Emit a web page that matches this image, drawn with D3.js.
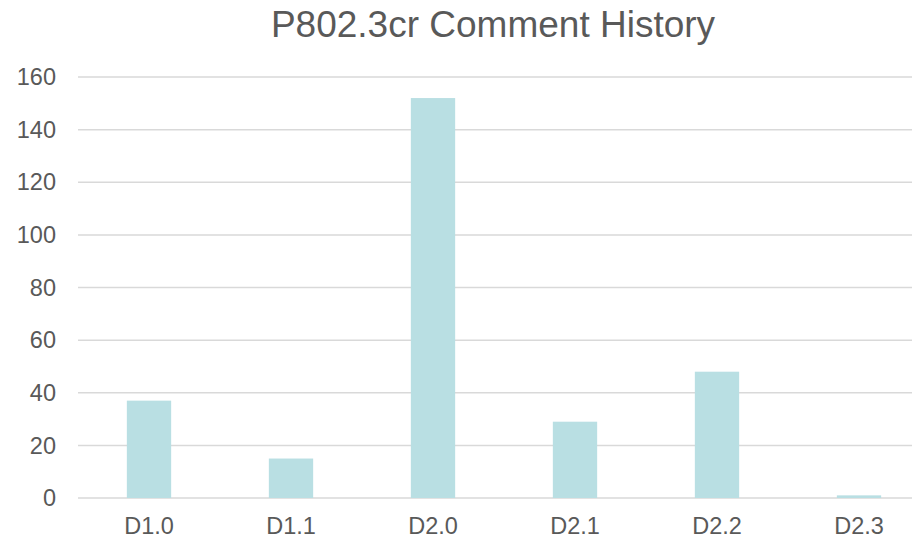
<!DOCTYPE html>
<html lang="en">
<head>
  <meta charset="UTF-8" />
  <title>P802.3cr Comment History</title>
  <script src="https://d3js.org/d3.v7.min.js"></script>
  <style>
    body { margin: 0; background: #fff; overflow: hidden; }
    svg { display: block; font-family: Arial, "Liberation Sans", Helvetica, sans-serif; }
    .grid line { stroke: #d9d9d9; stroke-width: 1.5px; }
    .label { fill: #595959; font-size: 23.5px; }
  </style>
</head>
<body>
  <svg width="912" height="539"></svg>
  <script>
    const drafts = ["D1.0", "D1.1", "D2.0", "D2.1", "D2.2", "D2.3"];
    const comments = [37, 15, 152, 29, 48, 1];
    const yTicks = [0, 20, 40, 60, 80, 100, 120, 140, 160];

    const svg = d3.select("svg");
    const plot = { left: 78, right: 930, top: 77, bottom: 498 };

    const x = d3.scaleBand().domain(drafts).range([plot.left, plot.right]).paddingInner(0.688).paddingOuter(0.344);
    const y = d3.scaleLinear().domain([0, 160]).range([plot.bottom, plot.top]);

    // title
    svg.append("text")
      .attr("x", 493).attr("y", 37)
      .attr("text-anchor", "middle")
      .style("font-size", "37px").style("fill", "#595959")
      .text("P802.3cr Comment History");

    // gridlines
    svg.append("g").attr("class", "grid")
      .selectAll("line").data(yTicks).join("line")
      .attr("x1", plot.left).attr("x2", plot.right)
      .attr("y1", d => y(d)).attr("y2", d => y(d));

    // y labels
    svg.append("g").selectAll("text").data(yTicks).join("text")
      .attr("class", "label")
      .attr("x", 56).attr("y", d => y(d))
      .attr("dy", "0.35em")
      .attr("text-anchor", "end")
      .text(d => d);

    // bars
    svg.append("g").selectAll("rect").data(drafts).join("rect")
      .attr("x", d => x(d))
      .attr("width", x.bandwidth())
      .attr("y", (d, i) => y(comments[i]))
      .attr("height", (d, i) => y(0) - y(comments[i]))
      .attr("fill", "#b9dfe3");

    // x labels
    svg.append("g").selectAll("text").data(drafts).join("text")
      .attr("class", "label")
      .attr("x", d => x(d) + x.bandwidth() / 2)
      .attr("y", 534)
      .attr("text-anchor", "middle")
      .text(d => d);
  </script>
</body>
</html>
